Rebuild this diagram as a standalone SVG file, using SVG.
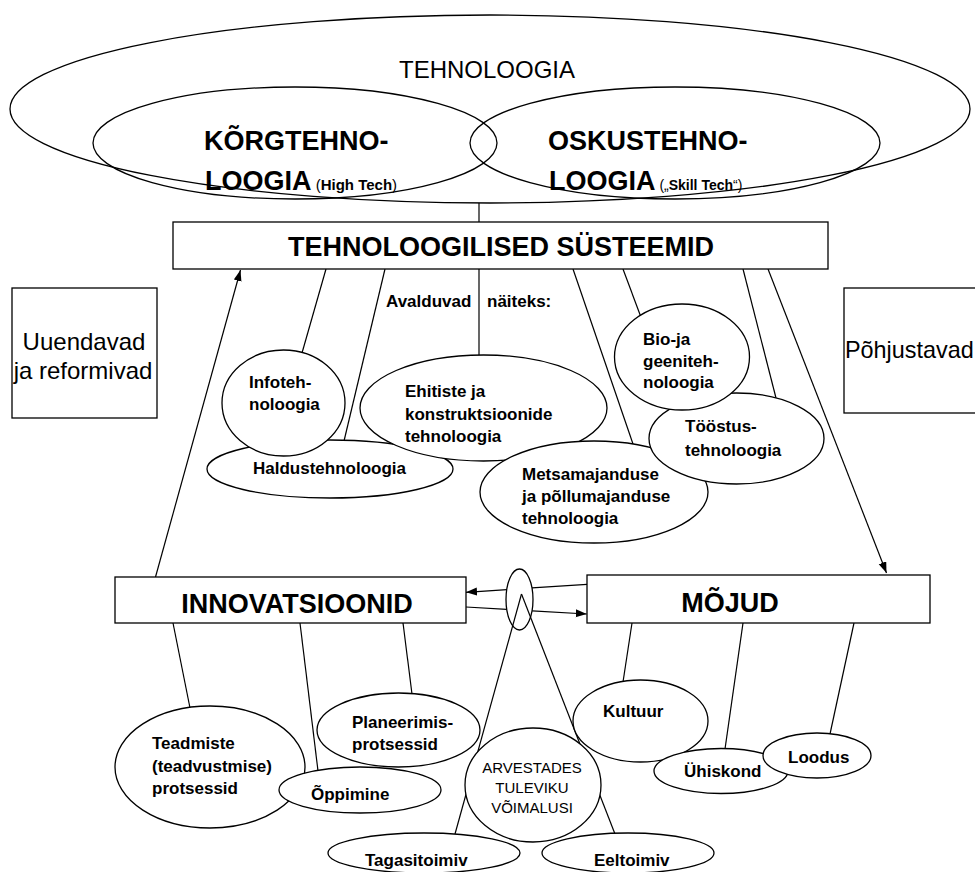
<svg xmlns="http://www.w3.org/2000/svg" width="975" height="872" viewBox="0 0 975 872">
<style>
.ln{stroke:#000;stroke-width:1.2;fill:none}
.nd{stroke:#000;stroke-width:1.3;fill:#fff}
.no{stroke:#000;stroke-width:1.3;fill:none}
.b{font-family:"Liberation Sans",Arial,sans-serif;font-weight:bold;font-size:17px;fill:#000}
.t{font-family:"Liberation Sans",Arial,sans-serif;font-weight:bold;font-size:27px;fill:#000}
.n{font-family:"Liberation Sans",Arial,sans-serif;font-weight:normal;fill:#000}
</style>
<defs>
<marker id="ah" markerWidth="12" markerHeight="10" refX="11" refY="4" orient="auto" markerUnits="userSpaceOnUse">
<path d="M0,0 L11,4 L0,8 Z" fill="#000"/>
</marker>
</defs>
<rect width="975" height="872" fill="#fff"/>

<g id="connectors">
<path class="ln" d="M479,203 L479,222"/>
<path class="ln" d="M326,269 L302,353"/>
<path class="ln" d="M385,269 L344,441"/>
<path class="ln" d="M479,269 L479,356"/>
<path class="ln" d="M573,269 L633,444"/>
<path class="ln" d="M623,269 L642,320"/>
<path class="ln" d="M743,269 L776,398"/>
<path class="ln" d="M768,269 L886.5,573" marker-end="url(#ah)"/>
<path class="ln" d="M155.5,577 L240.5,270" marker-end="url(#ah)"/>
<path class="ln" d="M173,623 L190,708"/>
<path class="ln" d="M300,623 L318,771"/>
<path class="ln" d="M403,623 L412,694"/>
<path class="ln" d="M632,623 L623,682"/>
<path class="ln" d="M743,623 L725,749"/>
<path class="ln" d="M854,623 L830,734"/>
<path class="ln" d="M587,584.3 L532,587.9 M507,589.6 L466,592.3" marker-end="url(#ah)"/>
<path class="ln" d="M466,607 L506.8,609.4 M532.2,610.8 L586.7,614" marker-end="url(#ah)"/>
<path class="ln" d="M521.5,594 L455,834"/>
<path class="ln" d="M521.5,594 L615,834"/>
</g>

<g id="tehnoloogia">
<ellipse class="no" cx="490" cy="109" rx="480" ry="94"/>
<text class="n" x="487" y="78" font-size="24" text-anchor="middle">TEHNOLOOGIA</text>
</g>
<g id="korgtehnoloogia">
<ellipse class="no" cx="295" cy="143" rx="202" ry="56"/>
<text class="t" font-size="26" x="204" y="150">KÕRGTEHNO-</text>
<text class="t" font-size="26" x="205" y="190">LOOGIA<tspan class="n" font-size="15"> (</tspan><tspan font-size="15">High Tech</tspan><tspan class="n" font-size="15">)</tspan></text>
</g>
<g id="oskustehnoloogia">
<ellipse class="no" cx="675" cy="143" rx="205" ry="56"/>
<text class="t" font-size="26" x="548" y="150">OSKUSTEHNO-</text>
<text class="t" font-size="26" x="549" y="190">LOOGIA<tspan class="n" font-size="14"> („</tspan><tspan font-size="14">Skill Tech</tspan><tspan class="n" font-size="14">“)</tspan></text>
</g>

<g id="systeemid">
<rect class="nd" x="173" y="222" width="655" height="47"/>
<text class="t" x="501" y="256" text-anchor="middle">TEHNOLOOGILISED SÜSTEEMID</text>
</g>

<g id="uuendavad">
<rect class="nd" x="12" y="288" width="145" height="130"/>
<text class="n" font-size="24" x="84" y="350" text-anchor="middle">Uuendavad</text>
<text class="n" font-size="24" x="83" y="379" text-anchor="middle">ja reformivad</text>
</g>
<g id="pohjustavad">
<rect class="nd" x="844" y="288" width="160" height="125"/>
<text class="n" font-size="23.4" x="845" y="358">Põhjustavad</text>
</g>

<g id="avalduvad">
<text class="b"><tspan x="386" y="307">Avalduvad</tspan><tspan x="487" y="307">näiteks:</tspan></text>
</g>

<g id="haldus">
<ellipse class="nd" cx="330" cy="469" rx="123" ry="29"/>
<text class="b" x="253" y="474">Haldustehnoloogia</text>
</g>
<g id="infoteh">
<ellipse class="nd" cx="283.5" cy="403" rx="61.5" ry="53"/>
<text class="b" x="249" y="388">Infoteh-</text>
<text class="b" x="249" y="410">noloogia</text>
</g>
<g id="ehitiste">
<ellipse class="nd" cx="483.5" cy="408" rx="123.5" ry="53"/>
<text class="b" x="405" y="397">Ehitiste ja</text>
<text class="b" x="405" y="420">konstruktsioonide</text>
<text class="b" x="405" y="442">tehnoloogia</text>
</g>
<g id="metsa">
<ellipse class="nd" cx="594" cy="492" rx="114" ry="51"/>
<text class="b" x="522" y="480">Metsamajanduse</text>
<text class="b" x="522" y="502">ja põllumajanduse</text>
<text class="b" x="522" y="524">tehnoloogia</text>
</g>
<g id="toostus">
<ellipse class="nd" cx="736.5" cy="438.5" rx="87.5" ry="45.5"/>
<text class="b" x="685" y="432">Tööstus-</text>
<text class="b" x="685" y="456">tehnoloogia</text>
</g>
<g id="bio">
<ellipse class="nd" cx="682" cy="357" rx="67.5" ry="53"/>
<text class="b" x="643" y="345">Bio-ja</text>
<text class="b" x="643" y="367">geeniteh-</text>
<text class="b" x="643" y="388">noloogia</text>
</g>

<g id="innovatsioonid">
<rect class="nd" x="115" y="577" width="351" height="46"/>
<text class="t" font-size="26" x="297" y="613" text-anchor="middle">INNOVATSIOONID</text>
</g>
<g id="mojud">
<rect class="nd" x="587" y="575" width="343" height="48"/>
<text class="t" font-size="26" x="730" y="612" text-anchor="middle">MÕJUD</text>
</g>
<g id="vahe">
<ellipse class="no" cx="519.5" cy="599.5" rx="13.5" ry="30.5"/>
</g>

<g id="teadmiste">
<ellipse class="nd" cx="210" cy="767" rx="95" ry="61"/>
<text class="b" x="152" y="749">Teadmiste</text>
<text class="b" x="152" y="772">(teadvustmise)</text>
<text class="b" x="152" y="794">protsessid</text>
</g>
<g id="oppimine">
<ellipse class="nd" cx="360" cy="790" rx="81" ry="23"/>
<text class="b" x="311" y="800">Õppimine</text>
</g>
<g id="planeerimis">
<ellipse class="nd" cx="398.5" cy="730" rx="81.5" ry="37"/>
<text class="b" x="352" y="728">Planeerimis-</text>
<text class="b" x="352" y="750">protsessid</text>
</g>
<g id="arvestades">
<ellipse class="nd" cx="533" cy="785" rx="68" ry="57"/>
<text class="n" font-size="15" x="532" y="773" text-anchor="middle">ARVESTADES</text>
<text class="n" font-size="15" x="532" y="793" text-anchor="middle">TULEVIKU</text>
<text class="n" font-size="15" x="532" y="813" text-anchor="middle">VÕIMALUSI</text>
</g>
<g id="tagasitoimiv">
<ellipse class="nd" cx="424" cy="853" rx="96" ry="20"/>
<text class="b" x="365" y="866">Tagasitoimiv</text>
</g>
<g id="eeltoimiv">
<ellipse class="nd" cx="628" cy="853" rx="86" ry="20"/>
<text class="b" x="594" y="866">Eeltoimiv</text>
</g>
<g id="kultuur">
<ellipse class="nd" cx="640.5" cy="721" rx="67.5" ry="41"/>
<text class="b" x="603" y="717">Kultuur</text>
</g>
<g id="uhiskond">
<ellipse class="nd" cx="721" cy="771" rx="67" ry="22.5"/>
<text class="b" x="684" y="777">Ühiskond</text>
</g>
<g id="loodus">
<ellipse class="nd" cx="817" cy="755.5" rx="54" ry="22.5"/>
<text class="b" x="788" y="763">Loodus</text>
</g>
</svg>
